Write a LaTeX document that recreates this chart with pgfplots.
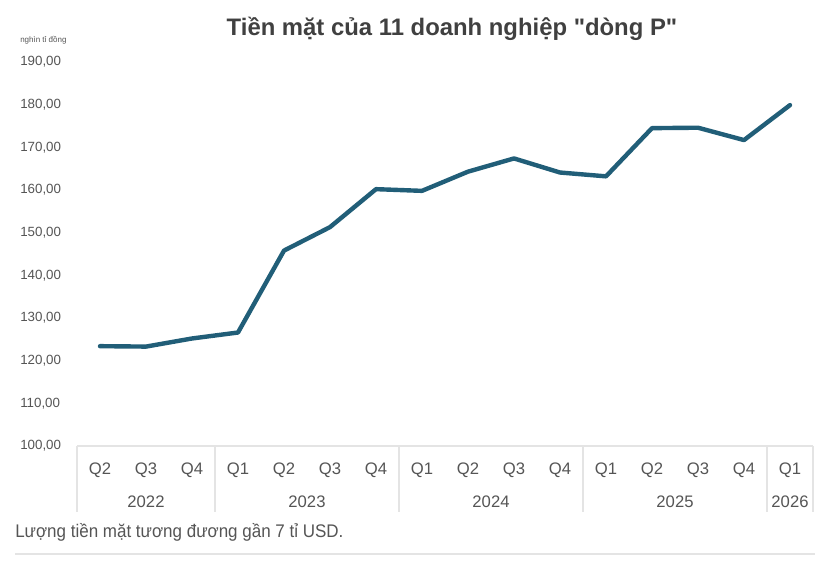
\documentclass[border=0pt]{standalone}
\usepackage{fontspec}
\setmainfont{Liberation Sans}
\newfontfamily\plainfont{Liberation Sans}
\newfontfamily\condfont{Liberation Sans}[FakeStretch=0.93]
\usepackage{pgfplots}
\pgfplotsset{compat=1.18}
\definecolor{lineblue}{RGB}{33,94,120}
\definecolor{txt}{RGB}{85,85,85}
\definecolor{ttl}{RGB}{64,64,64}
\definecolor{rulec}{RGB}{228,228,228}
\begin{document}
\begin{tikzpicture}[x=0.75pt,y=0.75pt]
\path[fill=white] (0,0) rectangle (830,568);
\begin{axis}[
  at={(57.75pt,91.5pt)}, anchor=south west,
  scale only axis, width=552pt, height=288pt,
  xmin=-0.5, xmax=15.5, ymin=100, ymax=190,
  clip=false,
  axis lines*=left,
  y axis line style={draw=none},
  x axis line style={draw=rulec, line width=0.8pt},
  major tick length=0pt,
  ytick={100,110,...,190},
  yticklabel style={anchor=west, inner sep=0pt, xshift=-42.75pt,
    font=\fontsize{10}{12}\selectfont, text=txt,
    /pgf/number format/.cd, fixed, fixed zerofill, precision=2, use comma, assume math mode=true},
  xtick={0,...,15},
  xticklabels={Q2,Q3,Q4,Q1,Q2,Q3,Q4,Q1,Q2,Q3,Q4,Q1,Q2,Q3,Q4,Q1},
  xticklabel style={anchor=center, yshift=-18pt, font=\fontsize{12.5}{14}\selectfont, text=txt},
]
\addplot[lineblue, line width=3.3pt, line join=round, line cap=round] coordinates {
  (0,123.4) (1,123.3) (2,125.2) (3,126.6) (4,145.8) (5,151.3) (6,160.2)
  (7,159.8) (8,164.3) (9,167.4) (10,164.1) (11,163.2) (12,174.5) (13,174.6)
  (14,171.7) (15,179.9)
};
\pgfplotsinvokeforeach{-0.5,2.5,6.5,10.5,14.5,15.5}{
  \draw[rulec, line width=0.8pt] (axis cs:#1,100) -- ++(0pt,-49.5pt);
}
\node[font=\fontsize{12.5}{14}\selectfont, text=txt] at (axis cs:1,100) [yshift=-42pt] {2022};
\node[font=\fontsize{12.5}{14}\selectfont, text=txt] at (axis cs:4.5,100) [yshift=-42pt] {2023};
\node[font=\fontsize{12.5}{14}\selectfont, text=txt] at (axis cs:8.5,100) [yshift=-42pt] {2024};
\node[font=\fontsize{12.5}{14}\selectfont, text=txt] at (axis cs:12.5,100) [yshift=-42pt] {2025};
\node[font=\fontsize{12.5}{14}\selectfont, text=txt] at (axis cs:15,100) [yshift=-42pt] {2026};
\end{axis}
\node[font=\plainfont\bfseries\fontsize{17.9}{21}\selectfont, text=ttl] at (452,539) {Tiền mặt của 11 doanh nghiệp "dòng P"};
\node[anchor=west, inner sep=0pt, font=\fontsize{6}{7}\selectfont, text=txt] at (20,528) {nghìn tỉ đồng};
\node[anchor=west, inner sep=0pt, font=\condfont\fontsize{13.7}{16}\selectfont, text=txt] at (15,36) {Lượng tiền mặt tương đương gần 7 tỉ USD.};
\draw[rulec, line width=0.8pt] (15,14) -- (815,14);
\end{tikzpicture}
\end{document}
